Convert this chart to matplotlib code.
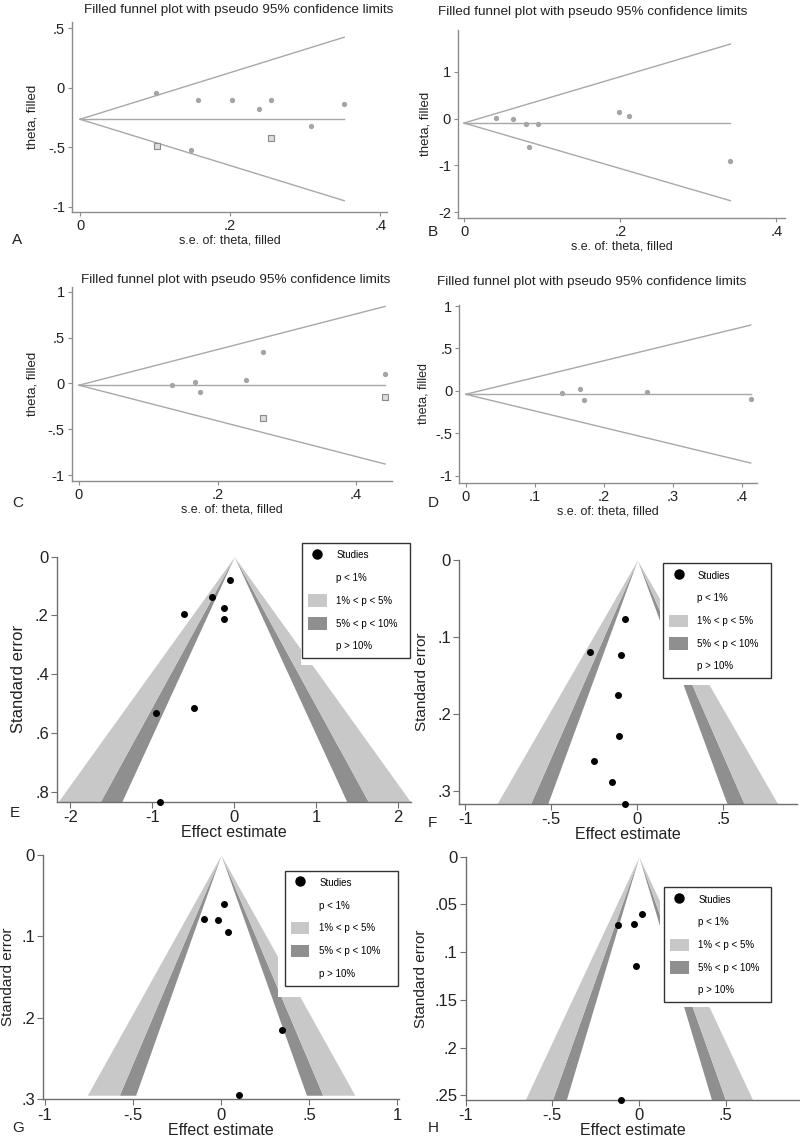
import numpy as np
import matplotlib
matplotlib.use("Agg")
from matplotlib import pyplot as plt
from matplotlib.patches import Patch, Rectangle
from matplotlib.lines import Line2D

plt.rcParams['font.family'] = ['Liberation Sans', 'DejaVu Sans']

# ---- A-D: filled funnel plots (se, theta); squares = filled (imputed) studies
A_se = [0.101, 0.157, 0.202, 0.238, 0.255, 0.352, 0.308, 0.148]
A_theta = [-0.04, -0.10, -0.10, -0.18, -0.10, -0.14, -0.32, -0.525]
A_fill_se = [0.102, 0.255]
A_fill_theta = [-0.49, -0.42]
A_pooled = -0.265
A_limits = [0.425, -0.95]

B_se = [0.041, 0.063, 0.080, 0.095, 0.083, 0.199, 0.211, 0.341]
B_theta = [0.02, -0.01, -0.11, -0.11, -0.60, 0.14, 0.05, -0.90]
B_fill_se = []
B_fill_theta = []
B_pooled = -0.094
B_limits = [1.59, -1.75]

C_se = [0.135, 0.167, 0.175, 0.241, 0.266, 0.442]
C_theta = [-0.02, 0.014, -0.095, 0.04, 0.34, 0.10]
C_fill_se = [0.266, 0.442]
C_fill_theta = [-0.38, -0.146]
C_pooled = -0.02
C_limits = [0.84, -0.88]

D_se = [0.140, 0.165, 0.171, 0.263, 0.413]
D_theta = [-0.03, 0.024, -0.11, -0.01, -0.09]
D_fill_se = []
D_fill_theta = []
D_pooled = -0.04
D_limits = [0.775, -0.85]

# ---- E-H: contour-enhanced funnel plots (effect estimate, standard error)
E_est = [-0.05, -0.27, -0.61, -0.12, -0.125, -0.955, -0.495, -0.905]
E_se = [0.079, 0.136, 0.195, 0.176, 0.212, 0.533, 0.516, 0.834]
F_est = [-0.072, -0.275, -0.095, -0.11, -0.108, -0.252, -0.149, -0.072]
F_se = [0.077, 0.119, 0.124, 0.175, 0.229, 0.261, 0.289, 0.317]
G_est = [0.017, -0.097, -0.015, 0.042, 0.348, 0.104]
G_se = [0.060, 0.078, 0.080, 0.095, 0.215, 0.295]
H_est = [0.019, -0.12, -0.029, -0.017, -0.104]
H_se = [0.060, 0.072, 0.071, 0.115, 0.255]

legend_labels = ['Studies', 'p < 1%', '1% < p < 5%', '5% < p < 10%', 'p > 10%']
Z10, Z05, Z01 = 1.645, 1.96, 2.576

LIGHT = '#c8c8c8'
DARK = '#8f8f8f'
W, H = 800, 1139

fig = plt.figure(figsize=(W / 100, H / 100), dpi=100)
fig.patch.set_facecolor('white')


def add_ax(l, t, r, b):
    return fig.add_axes([l / W, 1 - b / H, (r - l) / W, (b - t) / H])


def ftext(x, y, s, **kw):
    fig.text(x / W, 1 - y / H, s, ha=kw.pop('ha', 'center'), va=kw.pop('va', 'center'), **kw)


def stata_fmt(v):
    s = f"{v:g}"
    return s.replace("0.", ".") if s not in ("0",) else s


def style_axes(ax, xticks, yticks, color, labelsize, length):
    for s in ['top', 'right']:
        ax.spines[s].set_visible(False)
    for s in ['left', 'bottom']:
        ax.spines[s].set_color(color)
        ax.spines[s].set_linewidth(1.0)
    ax.set_xticks(xticks)
    ax.set_xticklabels([stata_fmt(v) for v in xticks])
    ax.set_yticks(yticks)
    ax.set_yticklabels([stata_fmt(v) for v in yticks])
    ax.tick_params(direction='out', length=length, width=0.8, color=color,
                   labelsize=labelsize, labelcolor='#222222', pad=2)


def filled_funnel(box, se, theta, fill_se, fill_theta, pooled, limits,
                  xlim, ylim, xticks, yticks, ypad, ysize):
    ax = add_ax(*box)
    se_max = max(se + fill_se)
    line = '#a8a8a8'
    ax.plot([0, se_max], [pooled, limits[0]], color=line, lw=1.0)
    ax.plot([0, se_max], [pooled, limits[1]], color=line, lw=1.0)
    ax.plot([0, se_max], [pooled, pooled], color=line, lw=1.0)
    ax.plot(se, theta, 'o', ms=2.8, color='#a5a5a5', mec='#a5a5a5')
    if fill_se:
        ax.plot(fill_se, fill_theta, 's', ms=3.8, mfc='#dcdcdc', mec='#8a8a8a', mew=0.8)
    ax.set_xlim(*xlim)
    ax.set_ylim(*ylim)
    style_axes(ax, xticks, yticks, '#8c8c8c', 10.5, 3)
    ax.set_xlabel('s.e. of: theta, filled', fontsize=9, labelpad=1, color='#222222')
    ax.set_ylabel('theta, filled', fontsize=ysize, labelpad=ypad, color='#222222')
    return ax


def contour_funnel(box, est, se, xlim, xticks, yticks, leg_box, cover, ysize, ypad):
    ax = add_ax(*box)
    se_max = max(se)
    s = np.array([0, se_max])
    for sign in (-1, 1):
        ax.fill_betweenx(s, sign * Z10 * s, sign * Z05 * s, color=DARK, lw=0, zorder=1)
        ax.fill_betweenx(s, sign * Z05 * s, sign * Z01 * s, color=LIGHT, lw=0, zorder=1)
    ax.add_patch(Rectangle((cover[0], cover[1]), 1 - cover[0], 1 - cover[1],
                           transform=ax.transAxes, facecolor='white',
                           edgecolor='none', zorder=2))
    ax.plot(est, se, 'o', color='black', ms=4, zorder=3, clip_on=False)
    ax.set_xlim(*xlim)
    ax.set_ylim(max(se_max, yticks[-1]), 0)
    style_axes(ax, xticks, yticks, '#6e6e6e', 12, 4)
    ax.set_xlabel('Effect estimate', fontsize=11.5, labelpad=0, color='#222222')
    ax.set_ylabel('Standard error', fontsize=ysize, labelpad=ypad, color='#222222')

    handles = [Line2D([], [], marker='o', ls='none', color='black', ms=6.5),
               Patch(fc='white', ec='none'),
               Patch(fc=LIGHT, ec='none'),
               Patch(fc=DARK, ec='none'),
               Patch(fc='white', ec='none')]
    leg = ax.legend(handles, legend_labels, loc='upper left',
                    bbox_to_anchor=(leg_box[0], leg_box[1], leg_box[2], 0),
                    mode='expand', fontsize=7, handlelength=1.9, handleheight=1.6,
                    labelspacing=1.05, borderpad=0.6, handletextpad=1.0,
                    borderaxespad=0, fancybox=False, framealpha=1)
    leg.get_frame().set_edgecolor('#333333')
    leg.get_frame().set_linewidth(1.0)
    leg.set_zorder(5)
    return ax


filled_funnel((72, 22, 387, 212), A_se, A_theta, A_fill_se, A_fill_theta, A_pooled, A_limits,
              (-0.0107, 0.409), (-1.045, 0.553), [0, 0.2, 0.4], [-1, -0.5, 0, 0.5], 7, 9.5)
filled_funnel((458, 30, 785, 218), B_se, B_theta, B_fill_se, B_fill_theta, B_pooled, B_limits,
              (-0.0077, 0.411), (-2.12, 1.89), [0, 0.2, 0.4], [-2, -1, 0, 1], 4.5, 9.5)
filled_funnel((71.7, 286.7, 391.7, 480.7), C_se, C_theta, C_fill_se, C_fill_theta, C_pooled,
              C_limits, (-0.0105, 0.4515), (-1.062, 1.055), [0, 0.2, 0.4],
              [-1, -0.5, 0, 0.5, 1], 7, 9.5)
filled_funnel((459.3, 305, 757.3, 482.7), D_se, D_theta, D_fill_se, D_fill_theta, D_pooled,
              D_limits, (-0.0093, 0.4226), (-1.082, 1.012), [0, 0.1, 0.2, 0.3, 0.4],
              [-1, -0.5, 0, 0.5, 1], 4, 9)

title = 'Filled funnel plot with pseudo 95% confidence limits'
for x, y in [(239, 10), (593, 12), (236, 280), (592, 282)]:
    ftext(x, y, title, fontsize=9.7, color='#222222')

contour_funnel((57.2, 556.7, 411.4, 801.7), E_est, E_se, (-2.16, 2.16), [-2, -1, 0, 1, 2],
               [0, 0.2, 0.4, 0.6, 0.8], (0.692, 1.055, 0.305), (0.687, 0.558), 12, 6.5)
contour_funnel((459.3, 560, 797.3, 804), F_est, F_se, (-1.035, 0.93), [-1, -0.5, 0, 0.5],
               [0, 0.1, 0.2, 0.3], (0.604, 0.986, 0.317), (0.594, 0.488), 11, 6)
contour_funnel((43.3, 855, 398.8, 1099.3), G_est, G_se, (-1.01, 1.01), [-1, -0.5, 0, 0.5, 1],
               [0, 0.1, 0.2, 0.3], (0.680, 0.936, 0.318), (0.661, 0.419), 11, 4.5)
contour_funnel((465.7, 856.7, 800, 1100), H_est, H_se, (-1.0, 0.93), [-1, -0.5, 0, 0.5],
               [0, 0.05, 0.1, 0.15, 0.2, 0.25], (0.594, 0.874, 0.318), (0.581, 0.383), 11, 4.5)

for letter, x, y in [('A', 12, 240), ('B', 428, 232), ('C', 12, 503), ('D', 428, 503),
                     ('E', 10, 813), ('F', 428, 823), ('G', 12, 1128), ('H', 428, 1128)]:
    ftext(x, y, letter, fontsize=11, color='#222222', ha='left')

fig.savefig('out.png', dpi=100, facecolor='white')
